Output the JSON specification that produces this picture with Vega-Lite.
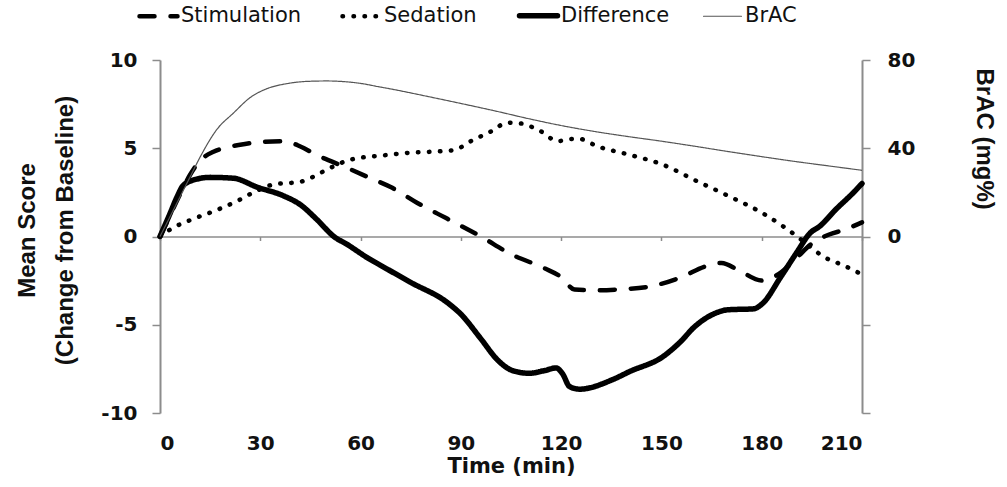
{
  "$schema": "https://vega.github.io/schema/vega-lite/v6.json",
  "width": 702,
  "height": 353,
  "autosize": "none",
  "padding": {"left": 160, "top": 60, "right": 145, "bottom": 74},
  "background": "white",
  "config": {
    "view": {"stroke": null},
    "axis": {
      "grid": false,
      "domainColor": "#8c8c8c",
      "domainWidth": 2,
      "tickColor": "#8c8c8c",
      "tickWidth": 1.5,
      "labelFont": "DejaVu Sans",
      "labelFontSize": 19,
      "labelFontWeight": "bold",
      "labelColor": "#111",
      "titleColor": "#111"
    },
    "legend": {
      "orient": "none",
      "legendX": -12,
      "legendY": -55,
      "direction": "horizontal",
      "symbolType": "stroke",
      "symbolSize": 1444,
      "symbolStrokeColor": "black",
      "labelFont": "DejaVu Sans",
      "labelFontSize": 21,
      "labelColor": "#111",
      "labelOffset": 12,
      "columnPadding": 31,
      "title": null
    }
  },
  "data": {
    "values": [
      {"series": "Stimulation", "t": 0, "v": 0},
      {"series": "Stimulation", "t": 3, "v": 1.2},
      {"series": "Stimulation", "t": 6, "v": 2.4},
      {"series": "Stimulation", "t": 9, "v": 3.5},
      {"series": "Stimulation", "t": 12, "v": 4.3},
      {"series": "Stimulation", "t": 16, "v": 4.8},
      {"series": "Stimulation", "t": 20, "v": 5.05},
      {"series": "Stimulation", "t": 24, "v": 5.2},
      {"series": "Stimulation", "t": 30, "v": 5.35},
      {"series": "Stimulation", "t": 37, "v": 5.4},
      {"series": "Stimulation", "t": 42, "v": 5.1},
      {"series": "Stimulation", "t": 47, "v": 4.6},
      {"series": "Stimulation", "t": 52, "v": 4.2},
      {"series": "Stimulation", "t": 57, "v": 3.8},
      {"series": "Stimulation", "t": 63, "v": 3.3},
      {"series": "Stimulation", "t": 69, "v": 2.8},
      {"series": "Stimulation", "t": 77, "v": 1.9},
      {"series": "Stimulation", "t": 86, "v": 1.0},
      {"series": "Stimulation", "t": 96, "v": 0.0},
      {"series": "Stimulation", "t": 105, "v": -1.0},
      {"series": "Stimulation", "t": 115, "v": -1.8},
      {"series": "Stimulation", "t": 120, "v": -2.3},
      {"series": "Stimulation", "t": 124, "v": -3.0},
      {"series": "Stimulation", "t": 130, "v": -3.05},
      {"series": "Stimulation", "t": 137, "v": -3.0},
      {"series": "Stimulation", "t": 146, "v": -2.85},
      {"series": "Stimulation", "t": 156, "v": -2.3},
      {"series": "Stimulation", "t": 163, "v": -1.7},
      {"series": "Stimulation", "t": 168, "v": -1.5},
      {"series": "Stimulation", "t": 173, "v": -1.9},
      {"series": "Stimulation", "t": 180, "v": -2.5},
      {"series": "Stimulation", "t": 186, "v": -2.0},
      {"series": "Stimulation", "t": 190, "v": -1.3},
      {"series": "Stimulation", "t": 195, "v": -0.4},
      {"series": "Stimulation", "t": 200, "v": 0.1},
      {"series": "Stimulation", "t": 205, "v": 0.4},
      {"series": "Stimulation", "t": 210, "v": 0.8},

      {"series": "Sedation", "t": 0, "v": 0},
      {"series": "Sedation", "t": 4, "v": 0.5},
      {"series": "Sedation", "t": 10, "v": 1.0},
      {"series": "Sedation", "t": 17, "v": 1.5},
      {"series": "Sedation", "t": 23, "v": 2.0},
      {"series": "Sedation", "t": 28, "v": 2.5},
      {"series": "Sedation", "t": 34, "v": 2.95},
      {"series": "Sedation", "t": 42, "v": 3.1},
      {"series": "Sedation", "t": 46, "v": 3.4},
      {"series": "Sedation", "t": 50, "v": 3.8},
      {"series": "Sedation", "t": 57, "v": 4.35},
      {"series": "Sedation", "t": 67, "v": 4.6},
      {"series": "Sedation", "t": 75, "v": 4.75},
      {"series": "Sedation", "t": 81, "v": 4.8},
      {"series": "Sedation", "t": 88, "v": 4.9},
      {"series": "Sedation", "t": 93, "v": 5.4},
      {"series": "Sedation", "t": 99, "v": 5.95},
      {"series": "Sedation", "t": 104, "v": 6.45},
      {"series": "Sedation", "t": 108, "v": 6.4},
      {"series": "Sedation", "t": 114, "v": 5.95},
      {"series": "Sedation", "t": 119, "v": 5.4},
      {"series": "Sedation", "t": 122, "v": 5.5},
      {"series": "Sedation", "t": 125, "v": 5.55},
      {"series": "Sedation", "t": 131, "v": 5.1},
      {"series": "Sedation", "t": 140, "v": 4.65},
      {"series": "Sedation", "t": 150, "v": 4.1},
      {"series": "Sedation", "t": 161, "v": 3.1},
      {"series": "Sedation", "t": 170, "v": 2.3},
      {"series": "Sedation", "t": 180, "v": 1.35},
      {"series": "Sedation", "t": 187, "v": 0.5},
      {"series": "Sedation", "t": 192, "v": -0.2},
      {"series": "Sedation", "t": 199, "v": -1.2},
      {"series": "Sedation", "t": 204, "v": -1.6},
      {"series": "Sedation", "t": 210, "v": -2.15},

      {"series": "Difference", "t": 0, "v": 0},
      {"series": "Difference", "t": 3, "v": 1.3},
      {"series": "Difference", "t": 5, "v": 2.2},
      {"series": "Difference", "t": 7, "v": 2.9},
      {"series": "Difference", "t": 11, "v": 3.25},
      {"series": "Difference", "t": 15, "v": 3.35},
      {"series": "Difference", "t": 22, "v": 3.3},
      {"series": "Difference", "t": 29, "v": 2.8},
      {"series": "Difference", "t": 37, "v": 2.3},
      {"series": "Difference", "t": 42, "v": 1.8},
      {"series": "Difference", "t": 47, "v": 0.95},
      {"series": "Difference", "t": 52, "v": 0.0},
      {"series": "Difference", "t": 56, "v": -0.45},
      {"series": "Difference", "t": 62, "v": -1.2},
      {"series": "Difference", "t": 68, "v": -1.85},
      {"series": "Difference", "t": 75, "v": -2.6},
      {"series": "Difference", "t": 86, "v": -3.75},
      {"series": "Difference", "t": 90, "v": -4.4},
      {"series": "Difference", "t": 96, "v": -5.8},
      {"series": "Difference", "t": 101, "v": -7.0},
      {"series": "Difference", "t": 105.5, "v": -7.6},
      {"series": "Difference", "t": 110.5, "v": -7.75},
      {"series": "Difference", "t": 115, "v": -7.6},
      {"series": "Difference", "t": 118.5, "v": -7.45},
      {"series": "Difference", "t": 120.5, "v": -7.8},
      {"series": "Difference", "t": 122.5, "v": -8.5},
      {"series": "Difference", "t": 125.5, "v": -8.65},
      {"series": "Difference", "t": 135.5, "v": -8.1},
      {"series": "Difference", "t": 140.5, "v": -7.65},
      {"series": "Difference", "t": 150.5, "v": -6.8},
      {"series": "Difference", "t": 155.5, "v": -6.0},
      {"series": "Difference", "t": 160, "v": -5.1},
      {"series": "Difference", "t": 165.5, "v": -4.4},
      {"series": "Difference", "t": 170, "v": -4.15},
      {"series": "Difference", "t": 177.5, "v": -4.1},
      {"series": "Difference", "t": 180.5, "v": -3.75},
      {"series": "Difference", "t": 185.5, "v": -2.35},
      {"series": "Difference", "t": 190.5, "v": -0.9},
      {"series": "Difference", "t": 194.5, "v": 0.2},
      {"series": "Difference", "t": 197.5, "v": 0.6},
      {"series": "Difference", "t": 202, "v": 1.5},
      {"series": "Difference", "t": 207.5, "v": 2.5},
      {"series": "Difference", "t": 210, "v": 3.0},

      {"series": "BrAC", "t": 0, "v": 0},
      {"series": "BrAC", "t": 3, "v": 9},
      {"series": "BrAC", "t": 6, "v": 18},
      {"series": "BrAC", "t": 9, "v": 27},
      {"series": "BrAC", "t": 12, "v": 36},
      {"series": "BrAC", "t": 17, "v": 48.5},
      {"series": "BrAC", "t": 22, "v": 56},
      {"series": "BrAC", "t": 27, "v": 63},
      {"series": "BrAC", "t": 32, "v": 67},
      {"series": "BrAC", "t": 38, "v": 69.3},
      {"series": "BrAC", "t": 44, "v": 70.3},
      {"series": "BrAC", "t": 50, "v": 70.5},
      {"series": "BrAC", "t": 55, "v": 70.2},
      {"series": "BrAC", "t": 60, "v": 69.4},
      {"series": "BrAC", "t": 65, "v": 68},
      {"series": "BrAC", "t": 70, "v": 66.6},
      {"series": "BrAC", "t": 80, "v": 63.5},
      {"series": "BrAC", "t": 90, "v": 60.3},
      {"series": "BrAC", "t": 100, "v": 57},
      {"series": "BrAC", "t": 110, "v": 53.5},
      {"series": "BrAC", "t": 120, "v": 50.3},
      {"series": "BrAC", "t": 130, "v": 47.6},
      {"series": "BrAC", "t": 140, "v": 45.3},
      {"series": "BrAC", "t": 150, "v": 43.2},
      {"series": "BrAC", "t": 160, "v": 40.9},
      {"series": "BrAC", "t": 170, "v": 38.5},
      {"series": "BrAC", "t": 180, "v": 36.2},
      {"series": "BrAC", "t": 190, "v": 34},
      {"series": "BrAC", "t": 200, "v": 32},
      {"series": "BrAC", "t": 210, "v": 30}
    ]
  },
  "layer": [
    {
      "layer": [
        {
          "transform": [{"filter": "datum.series === 'Sedation'"}],
          "mark": {"type": "line", "interpolate": "monotone", "color": "black", "strokeCap": "round", "strokeWidth": 4.5},
          "encoding": {
            "x": {"field": "t", "type": "quantitative"},
            "y": {"field": "v", "type": "quantitative"},
            "strokeDash": {"field": "series", "type": "nominal"}
          }
        },
        {
          "transform": [{"filter": "datum.series === 'Stimulation'"}],
          "mark": {"type": "line", "interpolate": "monotone", "color": "black", "strokeCap": "round", "strokeWidth": 4.5},
          "encoding": {
            "x": {"field": "t", "type": "quantitative"},
            "y": {"field": "v", "type": "quantitative"},
            "strokeDash": {"field": "series", "type": "nominal"}
          }
        },
        {
          "transform": [{"filter": "datum.series === 'Difference'"}],
          "mark": {"type": "line", "interpolate": "monotone", "color": "black", "strokeCap": "round", "strokeWidth": 5.5},
          "encoding": {
            "x": {
              "field": "t",
              "type": "quantitative",
              "scale": {"domain": [0, 210], "nice": false},
              "axis": {
                "values": [0, 30, 60, 90, 120, 150, 180, 210],
                "offset": -176.5,
                "tickSize": 4,
                "domainWidth": 1.5,
                "labelPadding": 193,
                "labelFontSize": 20,
                "labelExpr": "replace(datum.label, '\u2212', '-')",
                "title": "Time (min)",
                "titleFont": "DejaVu Sans",
                "titleFontSize": 21,
                "titleFontWeight": "bold",
                "titleY": 230,
                "titleBaseline": "middle"
              }
            },
            "y": {
              "field": "v",
              "type": "quantitative",
              "scale": {"domain": [-10, 10], "nice": false},
              "axis": {
                "values": [-10, -5, 0, 5, 10],
                "tickSize": 8,
                "labelPadding": 15,
                "labelFontSize": 20,
                "labelExpr": "replace(datum.label, '\u2212', '-')",
                "title": ["Mean Score", "(Change from Baseline)"],
                "titleFont": "Liberation Sans",
                "titleFontSize": 24,
                "titleFontWeight": "bold",
                "titleLineHeight": 38,
                "titleAngle": -90,
                "titleAlign": "center",
                "titleBaseline": "middle",
                "titleX": -133,
                "titleY": 170
              }
            },
            "strokeDash": {
              "field": "series",
              "type": "nominal",
              "scale": {
                "domain": ["Stimulation", "Sedation", "Difference", "BrAC"],
                "range": [[15, 16], [0.5, 10.5], [1, 0], [1, 0]]
              },
              "legend": {
                "encode": {
                  "symbols": {
                    "update": {
                      "strokeCap": {"value": "round"},
                      "strokeWidth": {"signal": "datum.value === 'Difference' ? 5.5 : datum.value === 'BrAC' ? 1.2 : 4.5"},
                      "stroke": {"signal": "datum.value === 'BrAC' ? '#555' : 'black'"}
                    }
                  }
                }
              }
            }
          }
        }
      ]
    },
    {
      "transform": [{"filter": "datum.series === 'BrAC'"}],
      "mark": {"type": "line", "interpolate": "monotone", "color": "#555", "strokeWidth": 1.2},
      "encoding": {
        "x": {"field": "t", "type": "quantitative"},
        "y": {
          "field": "v",
          "type": "quantitative",
          "scale": {"domain": [-80, 80], "nice": false},
          "axis": {
            "orient": "right",
            "values": [-80, -40, 0, 40, 80],
            "labelExpr": "datum.value >= 0 ? datum.label : ''",
            "tickSize": 8,
            "labelPadding": 17,
            "labelFontSize": 20,
            "title": "BrAC (mg%)",
            "titleFont": "Liberation Sans",
            "titleFontSize": 24,
            "titleFontWeight": "bold",
            "titleAngle": 90,
            "titleAlign": "left",
            "titleBaseline": "middle",
            "titleX": 121,
            "titleY": 8
          }
        },
        "strokeDash": {"field": "series", "type": "nominal"}
      }
    }
  ],
  "resolve": {"scale": {"y": "independent"}, "axis": {"y": "independent"}}
}
